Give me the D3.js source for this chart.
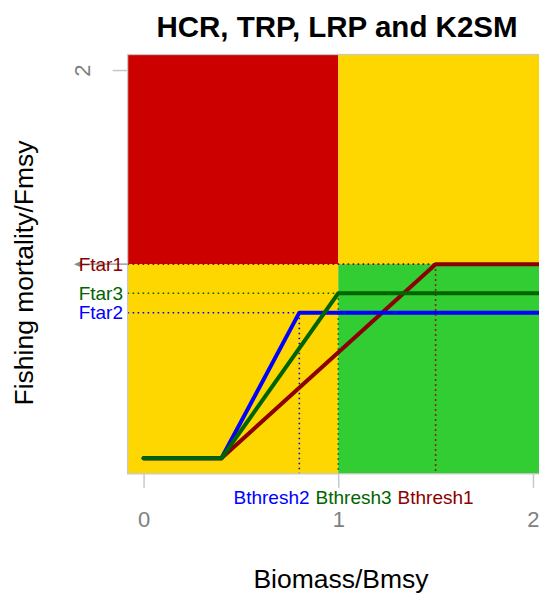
<!DOCTYPE html>
<html>
<head>
<meta charset="utf-8">
<script src="https://cdn.jsdelivr.net/npm/d3@7"></script>
<style>
  html, body { margin: 0; padding: 0; background: #fff; }
  svg { display: block; font-family: "Liberation Sans", Arial, sans-serif; }
</style>
</head>
<body>
<svg id="chart" width="539" height="594"></svg>
<script>
// Harvest control rules: flat at Fmin below Blim, linear ramp up to (Bthresh, Ftar), flat after.
const hcrNames   = ["1", "2", "3"];
const Bthresh    = [1.5, 0.8, 1.0];
const Ftar       = [1.0, 0.75, 0.85];
const hcrColors  = ["#8B0000", "#0000FF", "#006400"];
const Blim       = 0.4;
const Fmin       = 0.0;
const xTicks     = [0, 1, 2];
const yTicks     = [2];
const xlim       = [0, 2.05];
const ylim       = [0, 2];
const zoneColors = { red: "#CD0000", yellow: "#FFD700", green: "#32CD32" };

const svg = d3.select("#chart");

// R-style 4% axis extension
const ext = (lim) => { const d = (lim[1] - lim[0]) * 0.04; return [lim[0] - d, lim[1] + d]; };
const xDom = ext(xlim), yDom = ext(ylim);
const plot = { left: 127.6, top: 54.5, bottom: 473.8 };
const pxPerUnit = 194.7;
plot.right = plot.left + (xDom[1] - xDom[0]) * pxPerUnit;

const x = d3.scaleLinear().domain(xDom).range([plot.left, plot.right]);
const y = d3.scaleLinear().domain(yDom).range([plot.bottom, plot.top]);

// Kobe-style zones split at B/Bmsy = 1 and F/Fmsy = 1
const zones = [
  { x0: xDom[0], x1: 1, y0: 1, y1: yDom[1], c: zoneColors.red },
  { x0: 1, x1: xDom[1], y0: 1, y1: yDom[1], c: zoneColors.yellow },
  { x0: xDom[0], x1: 1, y0: yDom[0], y1: 1, c: zoneColors.yellow },
  { x0: 1, x1: xDom[1], y0: yDom[0], y1: 1, c: zoneColors.green }
];
svg.append("g").selectAll("rect").data(zones).join("rect")
  .attr("x", d => x(d.x0)).attr("y", d => y(d.y1))
  .attr("width", d => x(d.x1) - x(d.x0)).attr("height", d => y(d.y0) - y(d.y1))
  .attr("fill", d => d.c);

// Reference lines at each target / threshold
const refs = hcrNames.map((n, i) => ({ i, B: Bthresh[i], F: Ftar[i], c: hcrColors[i] }));
const gRef = svg.append("g").attr("fill", "none").attr("stroke-width", 1.6).attr("stroke-dasharray", "1.6,3.4");
gRef.selectAll("line.h").data(refs).join("line").attr("class", "h")
  .attr("x1", x(xDom[0])).attr("x2", d => x(d.B))
  .attr("y1", d => y(d.F)).attr("y2", d => y(d.F))
  .attr("stroke", d => d.c);
gRef.selectAll("line.v").data(refs).join("line").attr("class", "v")
  .attr("x1", d => x(d.B)).attr("x2", d => x(d.B))
  .attr("y1", d => y(d.F)).attr("y2", y(yDom[0]))
  .attr("stroke", d => d.c);

// HCR lines
const line = d3.line().x(d => x(d[0])).y(d => y(d[1]));
svg.append("g").selectAll("path").data(refs).join("path")
  .attr("d", d => line([[0, Fmin], [Blim, Fmin], [d.B, d.F], [xDom[1] + 0.2, d.F]]))
  .attr("fill", "none").attr("stroke", d => d.c)
  .attr("stroke-width", 4).attr("stroke-linejoin", "round").attr("stroke-linecap", "round");

// plot frame
svg.append("rect")
  .attr("x", plot.left).attr("y", plot.top)
  .attr("width", plot.right - plot.left).attr("height", plot.bottom - plot.top)
  .attr("fill", "none").attr("stroke", "#c8c8c8").attr("stroke-width", 1.3);

// x axis
const xAxis = d3.axisBottom(x).tickValues(xTicks).tickFormat(d3.format("d"))
  .tickSize(14).tickPadding(24);
const gx = svg.append("g").attr("transform", `translate(0,${plot.bottom})`).call(xAxis);
gx.select(".domain").remove();
gx.selectAll(".tick line").attr("stroke", "#c8c8c8").attr("stroke-width", 1.5);
gx.selectAll(".tick text").attr("fill", "#808080").attr("font-size", 22)
  .attr("font-family", "Liberation Sans, Arial, sans-serif");

// y axis (rotated labels, R style)
const yAxis = d3.axisLeft(y).tickValues(yTicks).tickFormat(d3.format("d")).tickSize(15).tickPadding(0);
const gy = svg.append("g").attr("transform", `translate(${plot.left},0)`).call(yAxis);
gy.select(".domain").remove();
gy.selectAll(".tick line").attr("stroke", "#c8c8c8").attr("stroke-width", 1.5);
gy.selectAll(".tick text").attr("fill", "#808080").attr("font-size", 22)
  .attr("font-family", "Liberation Sans, Arial, sans-serif")
  .attr("text-anchor", "middle").attr("dy", null)
  .attr("transform", "translate(-45,0) rotate(-90)")
  .attr("x", 0).attr("y", 0).attr("dominant-baseline", "central");

// pointer at Fmsy on the y axis
const yF1 = y(Ftar[0]);
svg.append("line").attr("x1", 77).attr("x2", plot.left).attr("y1", yF1).attr("y2", yF1)
  .attr("stroke", "#8a8a8a").attr("stroke-width", 1.4);
svg.append("path").attr("d", `M74,${yF1} L82,${yF1 - 3.5} L82,${yF1 + 3.5} Z`).attr("fill", "#8a8a8a");

// Ftar labels on the left
svg.append("g").selectAll("text").data(refs).join("text")
  .attr("x", 123).attr("y", d => y(d.F)).attr("dy", "0.35em")
  .attr("text-anchor", "end").attr("font-size", 19).attr("fill", d => d.c)
  .text(d => "Ftar" + hcrNames[d.i]);

// Bthresh labels below the axis: the largest sits at its threshold, the rest pack leftwards
const bLab = svg.append("g").attr("font-size", 19);
const order = refs.slice().sort((a, b) => b.B - a.B);
let rightLimit = null;
order.forEach(d => {
  const t = bLab.append("text").attr("y", 503.5).attr("fill", d.c).text("Bthresh" + hcrNames[d.i]);
  const w = t.node().getComputedTextLength();
  const cx = rightLimit === null ? x(d.B) : rightLimit - 6 - w / 2;
  t.attr("x", cx).attr("text-anchor", "middle");
  rightLimit = cx - w / 2;
});

// titles
svg.append("text").attr("x", 337).attr("y", 37).attr("text-anchor", "middle")
  .attr("font-size", 29.5).attr("font-weight", "bold").attr("fill", "#000")
  .text("HCR, TRP, LRP and K2SM");
svg.append("text").attr("x", 341).attr("y", 588).attr("text-anchor", "middle")
  .attr("font-size", 26.5).attr("fill", "#000").text("Biomass/Bmsy");
svg.append("text").attr("transform", "translate(33,273) rotate(-90)").attr("text-anchor", "middle")
  .attr("font-size", 26.5).attr("fill", "#000").text("Fishing mortality/Fmsy");
</script>
</body>
</html>
